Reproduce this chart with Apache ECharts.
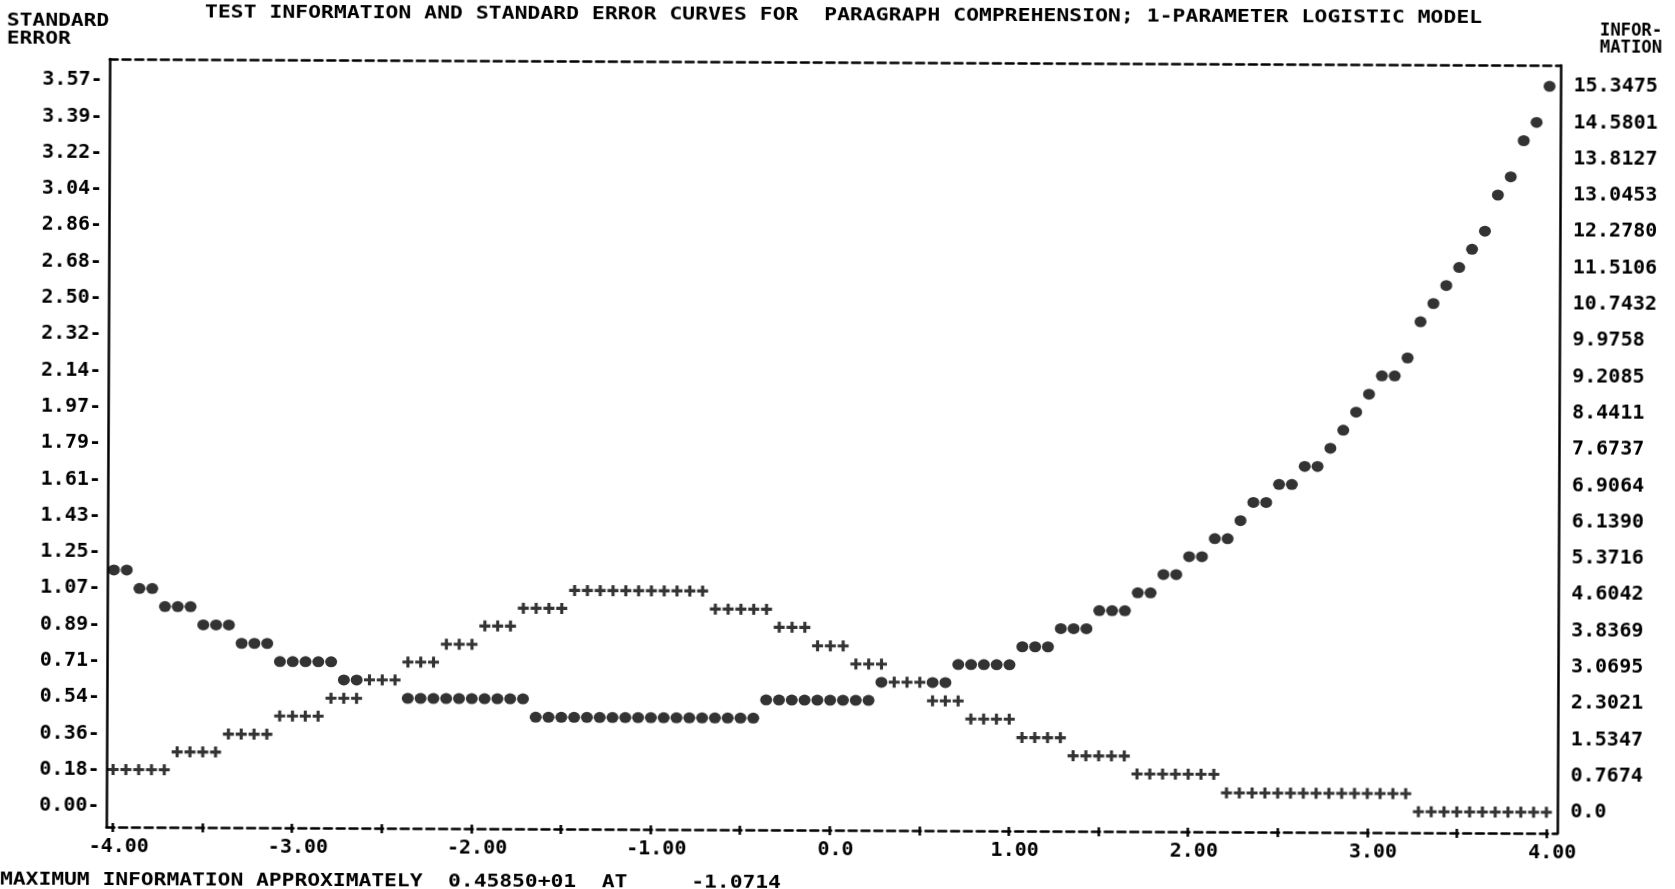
<!DOCTYPE html>
<html><head><meta charset="utf-8">
<script src="https://cdn.jsdelivr.net/npm/echarts@6/dist/echarts.min.js"></script>
<style>html,body{margin:0;padding:0;background:#fff;overflow:hidden}
#c{width:1675px;height:889px;transform:rotate(0.25deg);transform-origin:108px 444px}</style>
</head><body><div id="c"></div>
<script>
// ---- data (113 ability columns, -4 .. 4 step 1/14) ----
const colCount = 113;
const thetaMin = -4, thetaMax = 4;
const seValues = [
  1.161,1.161, 1.071,1.071, 0.982,0.982,0.982, 0.893,0.893,0.893, 0.803,0.803,0.803,
  0.714,0.714,0.714,0.714,0.714, 0.625,0.625,0.625,0.625,0.625,
  0.536,0.536,0.536,0.536,0.536,0.536,0.536,0.536,0.536,0.536,
  0.446,0.446,0.446,0.446,0.446,0.446,0.446,0.446,0.446,0.446,0.446,0.446,0.446,0.446,0.446,0.446,0.446,0.446,
  0.536,0.536,0.536,0.536,0.536,0.536,0.536,0.536,0.536,
  0.625,0.625,0.625,0.625,0.625,0.625,
  0.714,0.714,0.714,0.714,0.714, 0.803,0.803,0.803, 0.893,0.893,0.893, 0.982,0.982,0.982,
  1.071,1.071, 1.161,1.161, 1.250,1.250, 1.339,1.339, 1.428, 1.518,1.518, 1.607,1.607, 1.696,1.696,
  1.786, 1.875, 1.964, 2.053, 2.143,2.143, 2.232, 2.410, 2.500, 2.589, 2.678, 2.768, 2.857,
  3.035, 3.125, 3.303, 3.393, 3.571
];
const infoValues = [
  0.77,0.77,0.77,0.77,0.77, 1.15,1.15,1.15,1.15, 1.53,1.53,1.53,1.53, 1.92,1.92,1.92,1.92,
  2.30,2.30,2.30, 2.69,2.69,2.69, 3.07,3.07,3.07, 3.45,3.45,3.45, 3.84,3.84,3.84,
  4.22,4.22,4.22,4.22, 4.60,4.60,4.60,4.60,4.60,4.60,4.60,4.60,4.60,4.60,4.60,
  4.22,4.22,4.22,4.22,4.22, 3.84,3.84,3.84, 3.45,3.45,3.45, 3.07,3.07,3.07, 2.69,2.69,2.69,
  2.30,2.30,2.30, 1.92,1.92,1.92,1.92, 1.53,1.53,1.53,1.53, 1.15,1.15,1.15,1.15,1.15,
  0.77,0.77,0.77,0.77,0.77,0.77,0.77,
  0.38,0.38,0.38,0.38,0.38,0.38,0.38,0.38,0.38,0.38,0.38,0.38,0.38,0.38,0.38,
  0.00,0.00,0.00,0.00,0.00,0.00,0.00,0.00,0.00,0.00,0.00
];
const xTickValues = [-4,-3,-2,-1,0,1,2,3,4];
const xTickLabels = ['-4.00','-3.00','-2.00','-1.00','0.0','1.00','2.00','3.00','4.00'];
const seTickLabels = ['0.00','0.18','0.36','0.54','0.71','0.89','1.07','1.25','1.43','1.61','1.79',
  '1.97','2.14','2.32','2.50','2.68','2.86','3.04','3.22','3.39','3.57'];
const infoTickLabels = ['0.0','0.7674','1.5347','2.3021','3.0695','3.8369','4.6042','5.3716','6.1390',
  '6.9064','7.6737','8.4411','9.2085','9.9758','10.7432','11.5106','12.2780','13.0453','13.8127','14.5801','15.3475'];
const SE_MAX = 3.5711, INFO_MAX = 15.3475;
const titleText = 'TEST INFORMATION AND STANDARD ERROR CURVES FOR  PARAGRAPH COMPREHENSION; 1-PARAMETER LOGISTIC MODEL';
const footText = 'MAXIMUM INFORMATION APPROXIMATELY  0.45850+01  AT     -1.0714';

// ---- build ----
const step = (thetaMax - thetaMin) / (colCount - 1);
const theta = seValues.map((_, k) => thetaMin + k * step);
const seRowU = SE_MAX / 40, infoRowU = INFO_MAX / 40;
const infoData = infoValues.map((v, k) => [theta[k], v]);
// the printer prints only the '+' where both curves fall in the same cell
const seData = seValues.map((v, k) => [theta[k], v])
  .filter((d, k) => Math.round(seValues[k] / seRowU) !== Math.round(infoValues[k] / infoRowU));

const MONO = '"DejaVu Sans Mono"';
const font = (s) => 'bold ' + s + 'px ' + MONO;
const CHAR = 12.8;
const txt = (t, x, y, size, adv) => ({
  type: 'text', x: x, y: y, scaleX: (adv || CHAR) / (0.602 * size), silent: true,
  style: { text: t, font: font(size), fill: '#000', verticalAlign: 'middle', align: 'left' }
});

const seTicks = seTickLabels.map((_, i) => i * SE_MAX / 20);
const infoTicks = infoTickLabels.map((_, i) => i * INFO_MAX / 20);
const xTickMarks = [];
for (let i = 0; i <= 16; i++) xTickMarks.push(-4 + i * 0.5);

// row grid: row 0 at y=806, row 40 at y=80 ; grid top 59, bottom 827
const GT = 59, GB = 827, R0 = 806, R40 = 80;
const rowPx = (R0 - R40) / 40;
const rowsTop = (R0 - GT) / rowPx;
const rowsBot = (GB - R0) / rowPx;
const XMIN = -4.0363, XMAX = 4.0614;

const chart = echarts.init(document.getElementById('c'), null, { renderer: 'canvas' });
const dash = { color: '#000', width: 2.5, type: [8, 4.8] };
const lab = { color: '#000', fontFamily: MONO, fontWeight: 'bold', fontSize: 20 };
chart.setOption({
  animation: false,
  backgroundColor: '#fff',
  grid: { left: 108, right: 1675 - 1559, top: GT, bottom: 889 - GB, containLabel: false, outerBoundsMode: 'none' },
  xAxis: [
    { type: 'value', position: 'bottom', min: XMIN, max: XMAX,
      axisLine: { show: true, onZero: false, lineStyle: dash },
      axisTick: { show: true, customValues: xTickMarks, length: 5, lineStyle: { color: '#000', width: 2.5 } },
      axisLabel: Object.assign({ customValues: xTickValues, margin: 10, padding: [0, 0, 0, 12],
        formatter: (v) => xTickLabels[xTickValues.indexOf(Math.round(v))] }, lab),
      splitLine: { show: false } },
    { type: 'value', position: 'top', min: XMIN, max: XMAX,
      axisLine: { show: true, onZero: false, lineStyle: dash },
      axisTick: { show: false }, axisLabel: { show: false }, splitLine: { show: false } },
    { type: 'value', position: 'bottom', min: XMIN, max: XMAX,
      axisLine: { show: false, onZero: false },
      axisTick: { show: true, inside: true, customValues: xTickMarks, length: 4, lineStyle: { color: '#000', width: 2.5 } },
      axisLabel: { show: false }, splitLine: { show: false } }
  ],
  yAxis: [
    { type: 'value', position: 'left', min: -rowsBot * seRowU, max: rowsTop * seRowU,
      axisLine: { show: true, onZero: false, lineStyle: { color: '#000', width: 2.5 } },
      axisTick: { show: false },
      axisLabel: Object.assign({ customValues: seTicks, margin: 7,
        formatter: (v) => seTickLabels[Math.round(v / (SE_MAX / 20))] + '-' }, lab),
      splitLine: { show: false } },
    { type: 'value', position: 'right', min: -rowsBot * infoRowU, max: rowsTop * infoRowU,
      axisLine: { show: true, onZero: false, lineStyle: { color: '#000', width: 2.5 } },
      axisTick: { show: false },
      axisLabel: Object.assign({ customValues: infoTicks, margin: 13,
        formatter: (v) => infoTickLabels[Math.round(v / (INFO_MAX / 20))] }, lab),
      splitLine: { show: false } }
  ],
  series: [
    { name: 'STANDARD ERROR', type: 'scatter', xAxisIndex: 0, yAxisIndex: 0, data: seData,
      symbol: 'circle', symbolSize: [12, 11], itemStyle: { color: '#000' }, silent: true },
    { name: 'INFORMATION', type: 'scatter', xAxisIndex: 0, yAxisIndex: 1, data: infoData,
      symbol: 'path://M3.6,0H6.4V3.6H10V6.4H6.4V10H3.6V6.4H0V3.6H3.6Z', symbolSize: [11, 11],
      itemStyle: { color: '#000' }, silent: true }
  ],
  graphic: [
    txt(titleText, 203, 13, 17, 12.9),
    txt('STANDARD', 5, 22, 17),
    txt('ERROR', 5, 40, 17),
    txt('INFOR-', 1598, 25, 17, 10.4),
    txt('MATION', 1598, 42, 17, 10.4),
    txt(footText, 2, 881, 17)
  ]
});
</script></body></html>
